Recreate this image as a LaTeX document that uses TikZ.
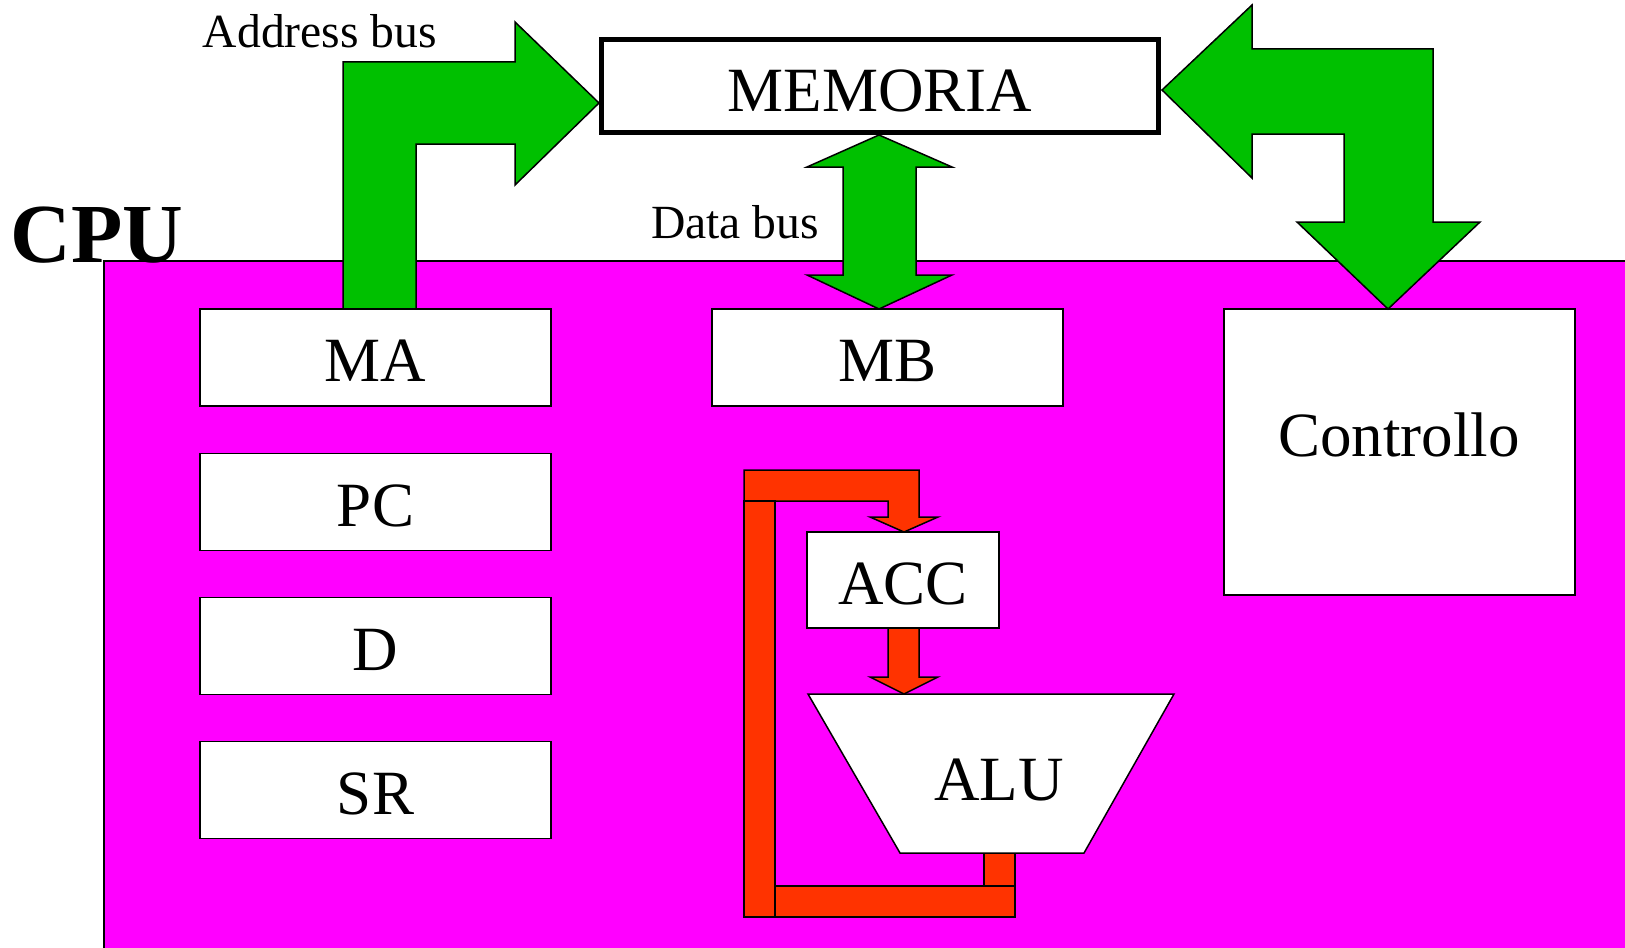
\documentclass[tikz,border=0pt]{standalone}
\usepackage{fontspec}
\setmainfont{Liberation Serif}
\definecolor{busgreen}{RGB}{0,192,0}
\definecolor{cpumag}{RGB}{255,0,255}
\definecolor{alured}{RGB}{255,51,0}
\begin{document}
\begin{tikzpicture}[x=0.5pt,y=-0.5pt,
  reg/.style={draw=black, fill=white, line width=0.75pt, inner sep=0pt,
    minimum width=175.5pt, minimum height=48.5pt, text height=24pt, text depth=0pt,
    font=\fontsize{31.5}{36}\selectfont},
  txt/.style={inner sep=0pt, anchor=base, font=\fontsize{31.5}{36}\selectfont},
  bus/.style={fill=busgreen, draw=black, line width=0.75pt, line join=miter},
  loopbar/.style={fill=alured, draw=black, line width=0.75pt},
  buslabel/.style={font=\fontsize{23.8}{28}\selectfont, anchor=base, inner sep=0pt}]
\useasboundingbox (0,0) rectangle (1625,947);
\fill[white] (0,0) rectangle (1625,947);
% CPU area
\draw[fill=cpumag, line width=0.75pt] (104,261) rectangle (1660,980);
% memory
\node[reg, minimum width=278.5pt, minimum height=46.5pt, line width=2.5pt, text height=26pt] (mem) at (880,86) {MEMORIA};
% registers
\node[reg] (ma) at (375.5,357.5) {MA};
\node[reg] (pc) at (375.5,502) {PC};
\node[reg] (d)  at (375.5,646) {D};
\node[reg] (sr) at (375.5,790) {SR};
\node[reg] (mb) at (887.5,357.5) {MB};
\node[reg, minimum height=143pt] (ctrl) at (1399.5,452) {};
\node[txt] (ctrltext) at (1399,456) {Controllo};
% address bus
\draw[bus] (343,309) -- (343,62) -- (515,62) -- (515,22) -- (599,103) -- (515,185)
  -- (515,144) -- (416,144) -- (416,309) -- cycle;
% data bus
\draw[bus] (879,135) -- (952,167) -- (916,167) -- (916,275) -- (952,275) -- (879,309)
  -- (807,275) -- (843,275) -- (843,167) -- (807,167) -- cycle;
% control bus
\draw[bus] (1162,90) -- (1252,5) -- (1252,49) -- (1433,49) -- (1433,222) -- (1480,222)
  -- (1388,309) -- (1297,222) -- (1344,222) -- (1344,134) -- (1252,134) -- (1252,178) -- cycle;
% redraw box tops over green bus tips
\node[reg] at (ma) {MA};
\node[reg] at (mb) {MB};
% ALU loop
\draw[loopbar] (744,470) -- (919,470) -- (919,517) -- (938,517) -- (904,532) -- (870,517)
  -- (888,517) -- (888,501) -- (744,501) -- cycle;
\draw[loopbar] (744,501) rectangle (775,917);
\draw[loopbar] (775,886) rectangle (1015,917);
\draw[loopbar] (984,853) rectangle (1015,886);
\node[reg, minimum width=96pt, minimum height=48pt] (acc) at (903,580) {ACC};
\draw[loopbar] (888,628) -- (919,628) -- (919,677) -- (938,677) -- (904,694) -- (870,677)
  -- (888,677) -- cycle;
\draw[fill=white, line width=0.75pt, line join=miter] (808,694) -- (1174,694) -- (1084,853) -- (900,853) -- cycle;
\node[txt] (alu) at (999,800) {ALU};
% labels
\node[buslabel] (addrlbl) at (320,48) {Address bus};
\node[buslabel] (datalbl) at (735,238) {Data bus};
\node[inner sep=0pt, anchor=base, font=\bfseries\fontsize{42}{50}\selectfont] (cpu) at (97,262) {CPU};
\end{tikzpicture}
\end{document}
